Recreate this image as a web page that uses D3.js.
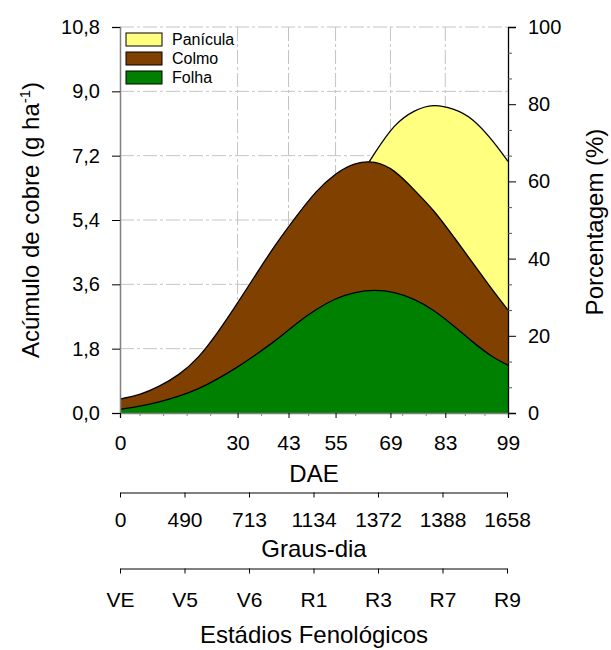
<!DOCTYPE html>
<html>
<head>
<meta charset="utf-8">
<script src="https://cdn.jsdelivr.net/npm/d3@7"></script>
<style>
  body { margin: 0; background: #fff; }
  svg { font-family: "Liberation Sans", Arial, sans-serif; }
</style>
</head>
<body>
<div id="vis1"></div>
<script>
const FRAME_HEIGHT = 650;
const FRAME_WIDTH = 611;
const MARGINS = {left: 120, right: 103, top: 27, bottom: 237};

const VIS_HEIGHT = FRAME_HEIGHT - MARGINS.top - MARGINS.bottom;
const VIS_WIDTH = FRAME_WIDTH - MARGINS.left - MARGINS.right;

// values (cumulative tops of each layer, g ha-1)
const DAE = [0, 5, 10, 15, 20, 25, 30, 35, 40, 45, 50, 55, 60, 65, 70, 75, 80, 85, 90, 95, 99];
const FOLHA = [0.10, 0.19, 0.31, 0.47, 0.68, 0.96, 1.29, 1.66, 2.06, 2.50, 2.89, 3.19, 3.37, 3.43, 3.37, 3.18, 2.87, 2.45, 1.99, 1.58, 1.34];
const COLMO = [0.39, 0.52, 0.75, 1.08, 1.57, 2.27, 3.08, 3.93, 4.75, 5.50, 6.18, 6.68, 6.97, 7.01, 6.76, 6.25, 5.66, 4.95, 4.20, 3.45, 2.88];
const PANICULA = [null, null, null, null, null, null, null, null, null, null, null, null, 6.40, 7.27, 8.02, 8.44, 8.60, 8.50, 8.20, 7.62, 7.04];

const DAE_TICKS = [0, 30, 43, 55, 69, 83, 99];
const DAE_MINOR = [5, 11, 17, 23, 36, 48, 60, 72, 78, 88, 93];
const GRAUS_DIA = ['0', '490', '713', '1134', '1372', '1388', '1658'];
const ESTADIOS = ['VE', 'V5', 'V6', 'R1', 'R3', 'R7', 'R9'];
const Y_TICKS = [0, 1.8, 3.6, 5.4, 7.2, 9.0, 10.8];
const PCT_TICKS = [0, 20, 40, 60, 80, 100];

const SERIES = [
  {name: 'Panícula', values: PANICULA, color: '#ffff80'},
  {name: 'Colmo', values: COLMO, color: '#804000'},
  {name: 'Folha', values: FOLHA, color: '#008000'}
];

const FRAME1 = d3.select('#vis1')
  .append('svg')
    .attr('height', FRAME_HEIGHT)
    .attr('width', FRAME_WIDTH);

const X_SCALE = d3.scaleLinear().domain([0, 99]).range([0, VIS_WIDTH]);
const Y_SCALE = d3.scaleLinear().domain([0, 10.8]).range([VIS_HEIGHT, 0]);
const PCT_SCALE = d3.scaleLinear().domain([0, 100]).range([VIS_HEIGHT, 0]);

const PLOT = FRAME1.append('g')
  .attr('transform', 'translate(' + MARGINS.left + ',' + MARGINS.top + ')');

// grid
const DASH = '14,3,3,3';
PLOT.selectAll('.hgrid')
  .data(Y_TICKS.slice(1))
  .enter()
  .append('line')
    .attr('x1', 0)
    .attr('x2', VIS_WIDTH)
    .attr('y1', (d) => Y_SCALE(d))
    .attr('y2', (d) => Y_SCALE(d))
    .attr('stroke', '#c4c4c4')
    .attr('stroke-dasharray', DASH);

PLOT.selectAll('.vgrid')
  .data(DAE_TICKS.slice(1, -1))
  .enter()
  .append('line')
    .attr('x1', (d) => X_SCALE(d))
    .attr('x2', (d) => X_SCALE(d))
    .attr('y1', 0)
    .attr('y2', VIS_HEIGHT)
    .attr('stroke', '#c4c4c4')
    .attr('stroke-dasharray', DASH);

// areas, back to front
SERIES.forEach((s) => {
  const pts = DAE.map((x, i) => ({x: x, y: s.values[i]}));
  const area = d3.area()
    .defined((d) => d.y !== null)
    .x((d) => X_SCALE(d.x))
    .y0(VIS_HEIGHT)
    .y1((d) => Y_SCALE(d.y))
    .curve(d3.curveNatural);
  const line = d3.line()
    .defined((d) => d.y !== null)
    .x((d) => X_SCALE(d.x))
    .y((d) => Y_SCALE(d.y))
    .curve(d3.curveNatural);
  PLOT.append('path')
    .datum(pts)
    .attr('d', area)
    .attr('fill', s.color);
  PLOT.append('path')
    .datum(pts)
    .attr('d', line)
    .attr('fill', 'none')
    .attr('stroke', '#000')
    .attr('stroke-width', 1.3);
});

// left axis
const LEFT = PLOT.append('g')
  .call(d3.axisLeft(Y_SCALE).tickValues(Y_TICKS).tickSize(8).tickPadding(12)
    .tickFormat((d) => d3.format('.1f')(d).replace('.', ',')));
LEFT.select('.domain').attr('stroke', '#808080').attr('stroke-width', 1.5);
LEFT.selectAll('text').attr('font-size', '20px').attr('fill', '#000');

// right axis
const RIGHT = PLOT.append('g')
  .attr('transform', 'translate(' + VIS_WIDTH + ',0)')
  .call(d3.axisRight(PCT_SCALE).tickValues(PCT_TICKS).tickSize(8).tickPadding(12));
RIGHT.select('.domain').attr('stroke', '#000').attr('stroke-width', 1.3);
RIGHT.selectAll('text').attr('font-size', '20px').attr('fill', '#000');

PLOT.append('g')
  .attr('transform', 'translate(' + VIS_WIDTH + ',0)')
  .call(d3.axisRight(PCT_SCALE).tickValues(d3.range(0, 100, 20 / 3).filter((d, i) => i % 3 !== 0)).tickSize(4).tickFormat(''))
  .call((g) => g.select('.domain').remove())
  .selectAll('line').attr('stroke', '#555');

// bottom DAE axis
const BOTTOM = PLOT.append('g')
  .attr('transform', 'translate(0,' + VIS_HEIGHT + ')')
  .call(d3.axisBottom(X_SCALE).tickValues(DAE_TICKS).tickSize(5).tickPadding(17));
BOTTOM.select('.domain').attr('stroke', '#808080').attr('stroke-width', 1.5);
BOTTOM.selectAll('text').attr('font-size', '21px').attr('fill', '#000');

PLOT.append('g')
  .attr('transform', 'translate(0,' + VIS_HEIGHT + ')')
  .call(d3.axisBottom(X_SCALE).tickValues(DAE_MINOR).tickSize(3).tickFormat(''))
  .call((g) => g.select('.domain').remove())
  .selectAll('line').attr('stroke', '#888');

// graus-dia and phenological stage axes
const G_SCALE = d3.scalePoint().domain(GRAUS_DIA).range([0, VIS_WIDTH - 1]);
const E_SCALE = d3.scalePoint().domain(ESTADIOS).range([0, VIS_WIDTH - 1]);

const GAX = FRAME1.append('g')
  .attr('transform', 'translate(' + MARGINS.left + ',492.5)')
  .call(d3.axisBottom(G_SCALE).tickSize(5).tickSizeOuter(0).tickPadding(15));
GAX.selectAll('text').attr('font-size', '21px').attr('fill', '#000');

const EAX = FRAME1.append('g')
  .attr('transform', 'translate(' + MARGINS.left + ',568.5)')
  .call(d3.axisBottom(E_SCALE).tickSize(5).tickSizeOuter(0).tickPadding(19));
EAX.selectAll('text').attr('font-size', '21px').attr('fill', '#000');

// titles
FRAME1.append('text')
  .attr('x', 314).attr('y', 482)
  .attr('text-anchor', 'middle')
  .attr('font-size', '24px')
  .text('DAE');

FRAME1.append('text')
  .attr('x', 314).attr('y', 557)
  .attr('text-anchor', 'middle')
  .attr('font-size', '24px')
  .text('Graus-dia');

FRAME1.append('text')
  .attr('x', 314).attr('y', 643)
  .attr('text-anchor', 'middle')
  .attr('font-size', '24px')
  .text('Estádios Fenológicos');

const YT = FRAME1.append('text')
  .attr('transform', 'translate(39,220) rotate(-90)')
  .attr('text-anchor', 'middle')
  .attr('font-size', '24px');
YT.append('tspan').text('Acúmulo de cobre (g ha');
YT.append('tspan').attr('font-size', '15px').attr('dy', '-9').text('-1');
YT.append('tspan').attr('dy', '9').text(')');

FRAME1.append('text')
  .attr('transform', 'translate(603,222) rotate(-90)')
  .attr('text-anchor', 'middle')
  .attr('font-size', '24px')
  .text('Porcentagem (%)');

// legend
const LEGEND = FRAME1.append('g')
  .attr('transform', 'translate(126,33)');

LEGEND.selectAll('rect')
  .data(SERIES)
  .enter()
  .append('rect')
    .attr('x', 0)
    .attr('y', (d, i) => i * 19)
    .attr('width', 36)
    .attr('height', 13)
    .attr('fill', (d) => d.color)
    .attr('stroke', '#000')
    .attr('stroke-width', 1);

LEGEND.selectAll('text')
  .data(SERIES)
  .enter()
  .append('text')
    .attr('x', 46)
    .attr('y', (d, i) => i * 19 + 12)
    .attr('font-size', '16px')
    .text((d) => d.name);
</script>
</body>
</html>
